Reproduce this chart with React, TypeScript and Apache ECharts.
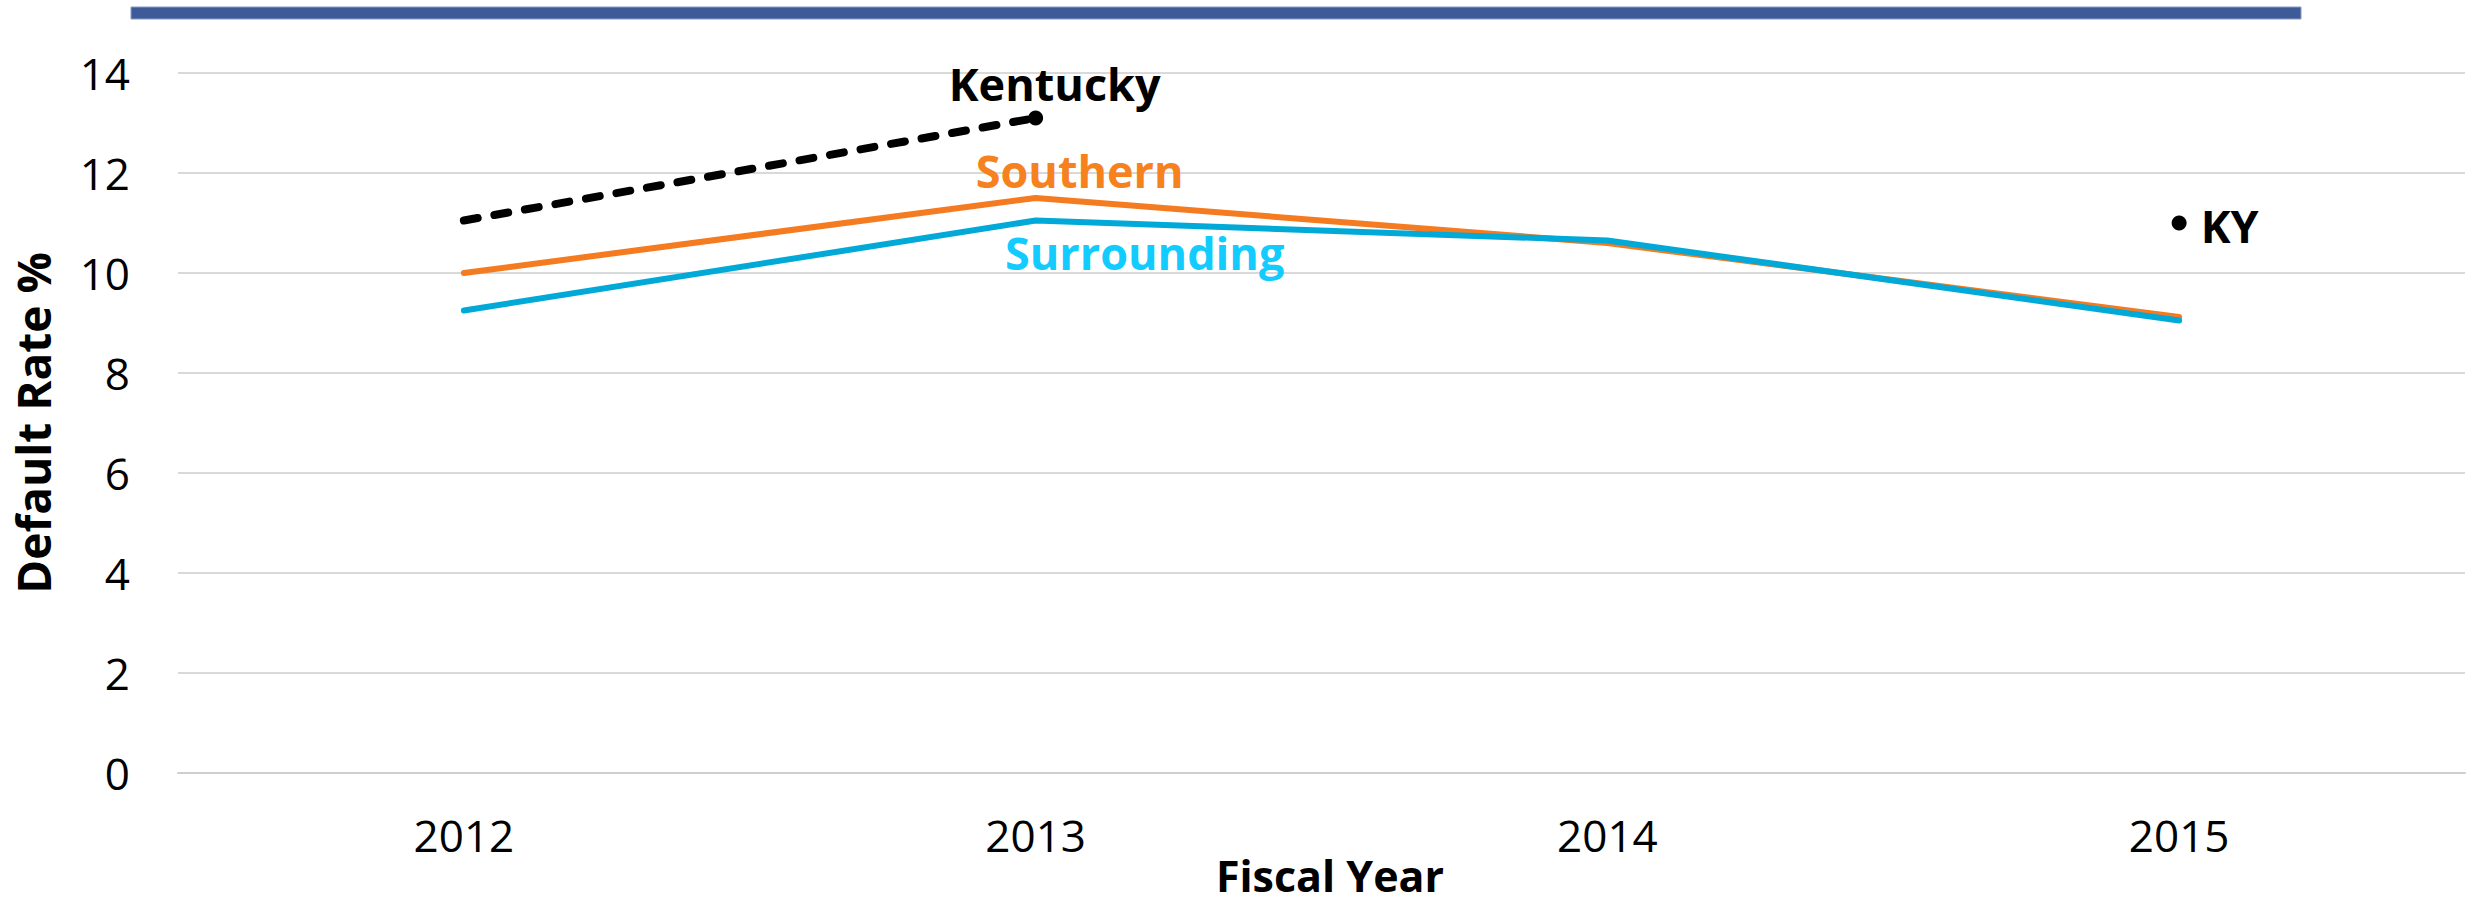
import React, { useEffect, useRef } from "react";
import * as echarts from "echarts";

const years = ["2012", "2013", "2014", "2015"];
const southern = [10.0, 11.5, 10.6, 9.12];
const surrounding = [9.25, 11.05, 10.65, 9.05];
const kentucky: (number | null)[] = [11.05, 13.1, null, 11.0];
const yTicks = { min: 0, max: 14, interval: 2 };
const xTitle = "Fiscal Year";
const yTitle = "Default Rate %";
const FONT = "'Open Sans', 'Noto Sans', sans-serif";

export default function App() {
  const ref = useRef<HTMLDivElement>(null);
  useEffect(() => {
    document.body.style.margin = "0";
    const chart = echarts.init(ref.current!, undefined, { renderer: "svg" });
    const labelBase = { fontFamily: FONT, fontSize: 45, fontWeight: "bold" as const };
    const southernData = southern.map((v, i) =>
      i === 1
        ? {
            value: v,
            symbol: "circle",
            symbolSize: 1,
            label: {
              show: true,
              position: "inside",
              formatter: "Southern",
              color: "#F5821F",
              offset: [44, -28],
              ...labelBase,
            },
          }
        : { value: v }
    );
    const surroundingData = surrounding.map((v, i) =>
      i === 1
        ? {
            value: v,
            symbol: "circle",
            symbolSize: 1,
            label: {
              show: true,
              position: "inside",
              formatter: "Surrounding",
              color: "#12CBFF",
              offset: [109, 32],
              ...labelBase,
            },
          }
        : { value: v }
    );
    const kentuckyData = kentucky.map((v, i) => {
      if (i === 1)
        return {
          value: v,
          symbol: "circle",
          symbolSize: 15,
          label: {
            show: true,
            position: "inside",
            formatter: "Kentucky",
            color: "#000",
            offset: [19, -35],
            ...labelBase,
          },
        };
      if (i === 3)
        return {
          value: v,
          symbol: "circle",
          symbolSize: 15,
          label: {
            show: true,
            position: "right",
            distance: 14,
            formatter: "KY",
            color: "#000",
            offset: [0, 2],
            ...labelBase,
          },
        };
      return { value: v, symbol: "none" };
    });

    chart.setOption({
      animation: false,
      backgroundColor: "#fff",
      grid: { left: 178, right: 4, top: 73, bottom: 135, containLabel: false },
      graphic: [
        {
          type: "rect",
          shape: { x: 131, y: 7, width: 2170, height: 12 },
          style: { fill: "#3E5A98", stroke: "#8A9CC4", lineWidth: 1 },
        },
        {
          type: "text",
          x: 1330,
          y: 875,
          style: {
            text: xTitle,
            fontFamily: FONT,
            fontSize: 43,
            fontWeight: "bold",
            fill: "#000",
            align: "center",
            verticalAlign: "middle",
          },
        },
      ],
      xAxis: {
        type: "category",
        data: years,
        boundaryGap: true,
        axisTick: { show: false },
        axisLine: { show: true, lineStyle: { color: "#CFCFCF", width: 2 } },
        axisLabel: { fontFamily: FONT, fontSize: 44, color: "#000", margin: 40 },
      },
      yAxis: {
        type: "value",
        min: yTicks.min,
        max: yTicks.max,
        interval: yTicks.interval,
        axisLine: { show: false },
        axisTick: { show: false },
        splitLine: { lineStyle: { color: "#D9D9D9", width: 2 } },
        axisLabel: { fontFamily: FONT, fontSize: 44, color: "#000", margin: 48 },
        name: yTitle,
        nameLocation: "middle",
        nameGap: 122,
        nameTextStyle: { fontFamily: FONT, fontSize: 46, fontWeight: "bold", color: "#000" },
      },
      series: [
        {
          name: "Southern",
          type: "line",
          data: southernData,
          symbol: "none",
          lineStyle: { color: "#F47B20", width: 6, cap: "round", join: "round" },
          itemStyle: { color: "#F47B20" },
          z: 2,
        },
        {
          name: "Surrounding",
          type: "line",
          data: surroundingData,
          symbol: "none",
          lineStyle: { color: "#00A9D7", width: 6, cap: "round", join: "round" },
          itemStyle: { color: "#00A9D7" },
          z: 3,
        },
        {
          name: "Kentucky",
          type: "line",
          data: kentuckyData,
          connectNulls: false,
          showSymbol: true,
          lineStyle: { color: "#000", width: 8, type: [14, 17], cap: "round" },
          itemStyle: { color: "#000" },
          z: 4,
        },
      ],
    });
    return () => chart.dispose();
  }, []);
  return (
    <div
      ref={ref}
      style={{ position: "absolute", left: 0, top: 0, width: 2469, height: 908 }}
    />
  );
}
